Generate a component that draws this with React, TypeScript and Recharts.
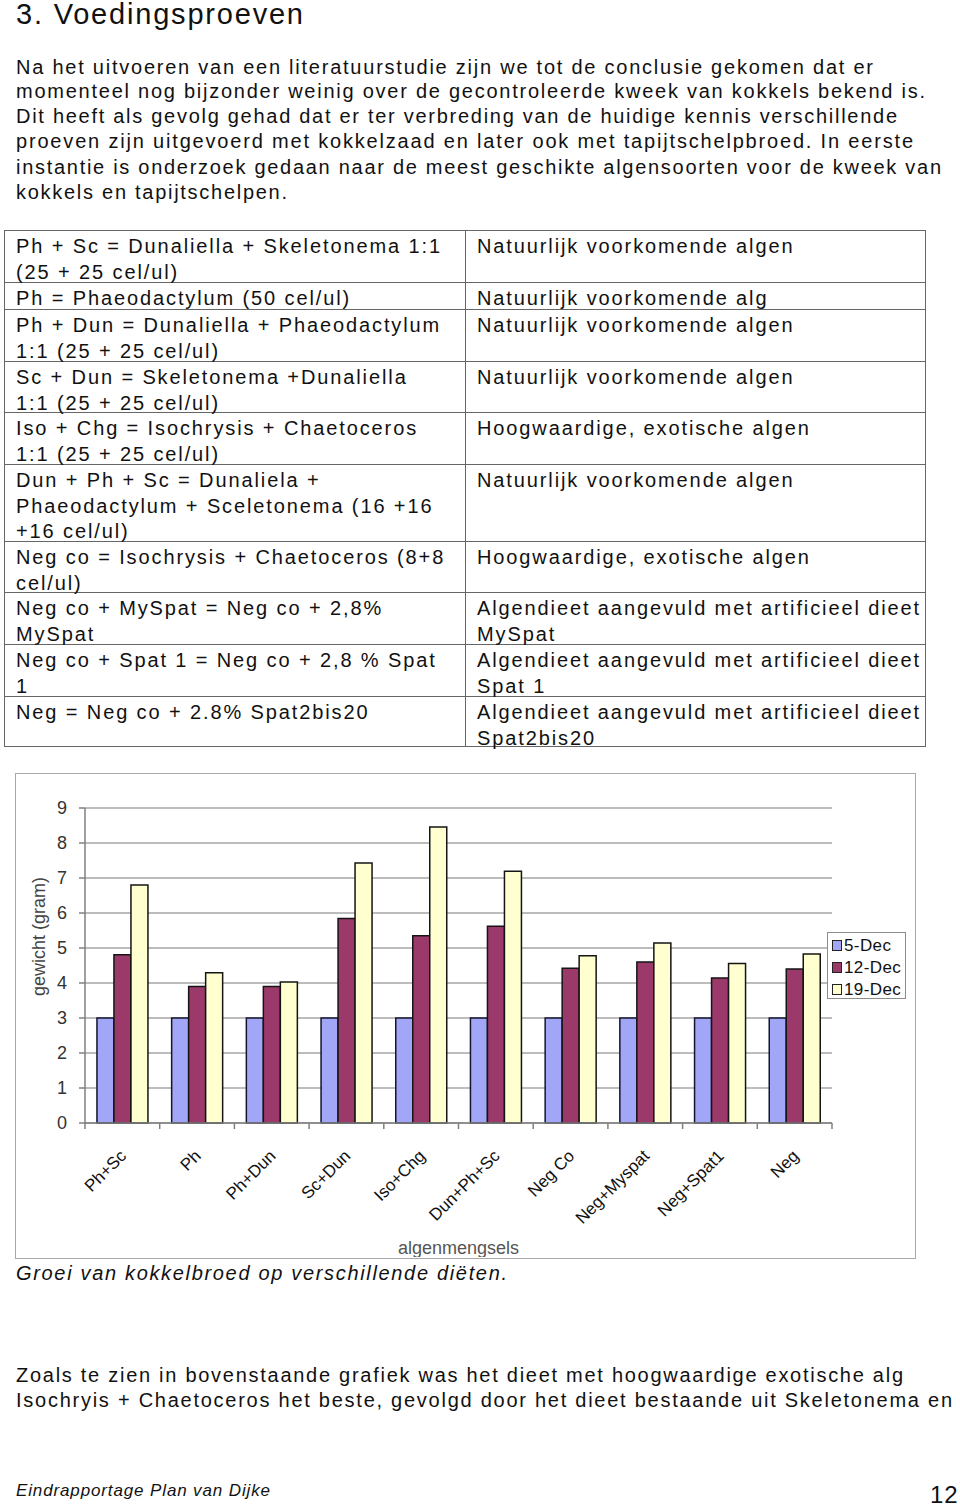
import React from "react"
import { BarChart, Bar, XAxis, YAxis, CartesianGrid, Legend } from "recharts"

// chart values
const categories = ["Ph+Sc", "Ph", "Ph+Dun", "Sc+Dun", "Iso+Chg", "Dun+Ph+Sc", "Neg Co", "Neg+Myspat", "Neg+Spat1", "Neg"]
const dec5 = [3, 3, 3, 3, 3, 3, 3, 3, 3, 3]
const dec12 = [4.81, 3.9, 3.9, 5.84, 5.35, 5.62, 4.42, 4.6, 4.14, 4.4]
const dec19 = [6.8, 4.29, 4.03, 7.43, 8.46, 7.19, 4.78, 5.14, 4.56, 4.83]
const seriesNames = ["5-Dec", "12-Dec", "19-Dec"]
const seriesColors = ["#a2a6f6", "#9b3a6a", "#ffffd0"]
const yTicks = [0, 1, 2, 3, 4, 5, 6, 7, 8, 9]

const data = categories.map((name, i) => ({ name, d5: dec5[i], d12: dec12[i], d19: dec19[i] }))

const FONT = '"Liberation Sans", Arial, Helvetica, sans-serif'

let ctx: CanvasRenderingContext2D | null = null
function fitSpacing(text: string, font: string, width: number) {
  if (!ctx) ctx = document.createElement("canvas").getContext("2d")
  if (!ctx) return 0
  ctx.font = font
  const w = ctx.measureText(text).width
  return (width - w) / Math.max(1, text.length - 1)
}

function fontOf(size: number, italic?: boolean) {
  return `${italic ? "italic " : ""}${size}px "Liberation Sans"`
}

function TextLine(props: { text: string; x: number; cy: number; size: number; right?: number; ls?: number; italic?: boolean; lh?: number }) {
  const { text, x, cy, size, right, italic } = props
  const ls = props.ls ?? (right ? fitSpacing(text, fontOf(size, italic), right - x) : 0)
  const lh = props.lh ?? Math.round(size * 1.2)
  return (
    <div
      style={{
        position: "absolute",
        left: x,
        top: cy - lh / 2,
        fontSize: size,
        lineHeight: `${lh}px`,
        letterSpacing: ls,
        fontStyle: italic ? "italic" : "normal",
        whiteSpace: "pre",
      }}
    >
      {text}
    </div>
  )
}

// intro text
const introLines = [
  "Na het uitvoeren van een literatuurstudie zijn we tot de conclusie gekomen dat er",
  "momenteel nog bijzonder weinig over de gecontroleerde kweek van kokkels bekend is.",
  "Dit heeft als gevolg gehad dat er ter verbreding van de huidige kennis verschillende",
  "proeven zijn uitgevoerd met kokkelzaad en later ook met tapijtschelpbroed. In eerste",
  "instantie is onderzoek gedaan naar de meest geschikte algensoorten voor de kweek van",
  "kokkels en tapijtschelpen.",
]
const introRight = [873, 925, 897, 913, 941, 287]
const introY = [67, 91, 116, 141, 167, 192]

// table of diets
const tableLeft = [
  ["Ph + Sc = Dunaliella + Skeletonema 1:1", "(25 + 25 cel/ul)"],
  ["Ph = Phaeodactylum (50 cel/ul)"],
  ["Ph + Dun = Dunaliella + Phaeodactylum", "1:1 (25 + 25 cel/ul)"],
  ["Sc + Dun = Skeletonema +Dunaliella", "1:1 (25 + 25 cel/ul)"],
  ["Iso + Chg = Isochrysis + Chaetoceros", "1:1 (25 + 25 cel/ul)"],
  ["Dun + Ph + Sc = Dunaliela +", "Phaeodactylum + Sceletonema (16 +16", "+16 cel/ul)"],
  ["Neg co = Isochrysis + Chaetoceros (8+8", "cel/ul)"],
  ["Neg co + MySpat = Neg co + 2,8%", "MySpat"],
  ["Neg co + Spat 1 = Neg co + 2,8 % Spat", "1"],
  ["Neg = Neg co + 2.8% Spat2bis20"],
]
const tableRight = [
  ["Natuurlijk voorkomende algen"],
  ["Natuurlijk voorkomende alg"],
  ["Natuurlijk voorkomende algen"],
  ["Natuurlijk voorkomende algen"],
  ["Hoogwaardige, exotische algen"],
  ["Natuurlijk voorkomende algen"],
  ["Hoogwaardige, exotische algen"],
  ["Algendieet aangevuld met artificieel dieet", "MySpat"],
  ["Algendieet aangevuld met artificieel dieet", "Spat 1"],
  ["Algendieet aangevuld met artificieel dieet", "Spat2bis20"],
]
const rowEdges = [230, 282, 309, 361, 412, 464, 541, 592, 644, 696, 747]

function CatTick(props: any) {
  const { x, y, payload, index, visibleTicksCount } = props
  const half = typeof payload?.offset === "number" ? payload.offset : 0
  const last = index === (visibleTicksCount ?? categories.length) - 1
  return (
    <g>
      {half > 0 && <line x1={x - half} x2={x - half} y1={y} y2={y + 6} stroke="#808080" strokeWidth={1.5} />}
      {half > 0 && last && <line x1={x + half} x2={x + half} y1={y} y2={y + 6} stroke="#808080" strokeWidth={1.5} />}
      <text
        transform={`translate(${x + 5},${y + 34}) rotate(-45)`}
        textAnchor="end"
        fontSize={17}
        fontFamily={FONT}
        fill="#111"
      >
        {payload.value}
      </text>
    </g>
  )
}

function LegendBox(props: any) {
  const items = [...(props.payload || [])].sort(
    (a: any, b: any) => seriesNames.indexOf(a.value) - seriesNames.indexOf(b.value)
  )
  return (
    <div
      style={{
        border: "1px solid #8c8c8c",
        background: "#fff",
        width: 79,
        height: 67,
        boxSizing: "border-box",
        padding: "2px 0 0 4px",
        fontFamily: FONT,
        fontSize: 17,
        letterSpacing: 0.4,
        color: "#111",
      }}
    >
      {items.map((it: any) => (
        <div key={it.value} style={{ display: "flex", alignItems: "center", height: 21, marginBottom: 1 }}>
          <span
            style={{
              display: "inline-block",
              width: 8,
              height: 9,
              background: it.color,
              border: "1px solid #222",
              marginRight: 2,
            }}
          />
          {it.value}
        </div>
      ))}
    </div>
  )
}

function GrowthChart() {
  return (
    <BarChart
      width={898}
      height={483}
      data={data}
      margin={{ top: 34, right: 82, bottom: 0, left: 0 }}
      barCategoryGap="16%"
      barGap={0}
    >
      <CartesianGrid vertical={false} stroke="#7a7a7a" strokeWidth={1.2} />
      <XAxis
        dataKey="name"
        height={134}
        interval={0}
        tickLine={false}
        tickSize={0}
        tickMargin={0}
        axisLine={{ stroke: "#808080", strokeWidth: 1.5 }}
        tick={<CatTick />}
        label={{
          content: (p: any) => {
            const vb = p.viewBox || {}
            return (
              <text x={vb.x + vb.width / 2} y={vb.y + 125} textAnchor="middle" dominantBaseline="central" fontSize={18} fontFamily={FONT} fill="#555">
                algenmengsels
              </text>
            )
          },
        }}
      />
      <YAxis
        width={69}
        domain={[0, 9]}
        ticks={yTicks}
        interval={0}
        tickSize={6}
        tickMargin={12}
        axisLine={{ stroke: "#808080", strokeWidth: 1.5 }}
        tickLine={{ stroke: "#808080", strokeWidth: 1.5 }}
        tick={{ fill: "#333", fontSize: 18, fontFamily: FONT }}
        label={{
          content: (p: any) => {
            const vb = p.viewBox || {}
            return (
              <text
                transform={`translate(${vb.x + 23},${vb.y + vb.height / 2 - 29}) rotate(-90)`}
                textAnchor="middle"
                dominantBaseline="central"
                fontSize={18}
                fontFamily={FONT}
                fill="#444"
              >
                gewicht (gram)
              </text>
            )
          },
        }}
      />
      <Legend
        layout="vertical"
        align="center"
        verticalAlign="middle"
        content={<LegendBox />}
        wrapperStyle={{ left: 811, top: 158, width: 79, height: 67 }}
      />
      <Bar dataKey="d5" name={seriesNames[0]} fill={seriesColors[0]} stroke="#15152e" strokeWidth={1.5} isAnimationActive={false} />
      <Bar dataKey="d12" name={seriesNames[1]} fill={seriesColors[1]} stroke="#151515" strokeWidth={1.5} isAnimationActive={false} />
      <Bar dataKey="d19" name={seriesNames[2]} fill={seriesColors[2]} stroke="#151515" strokeWidth={1.5} isAnimationActive={false} />
    </BarChart>
  )
}

export default function App() {
  const tableSize = 20
  const tableLs = fitSpacing(tableLeft[0][0], fontOf(tableSize), 424)

  return (
    <div
      style={{
        position: "absolute",
        left: 0,
        top: 0,
        width: 960,
        height: 1508,
        overflow: "hidden",
        background: "#fff",
        color: "#111",
        fontFamily: FONT,
      }}
    >
      <TextLine text="3. Voedingsproeven" x={16} cy={14} size={29} right={303} lh={28} />

      {introLines.map((t, i) => (
        <TextLine key={i} text={t} x={16} cy={introY[i]} size={20} right={introRight[i]} />
      ))}

      {/* table */}
      <div
        style={{
          position: "absolute",
          left: 4,
          top: rowEdges[0],
          width: 922,
          height: rowEdges[rowEdges.length - 1] - rowEdges[0],
          border: "1.5px solid #666",
          boxSizing: "border-box",
        }}
      />
      <div
        style={{
          position: "absolute",
          left: 465,
          top: rowEdges[0],
          width: 0,
          height: rowEdges[rowEdges.length - 1] - rowEdges[0],
          borderLeft: "1.5px solid #666",
        }}
      />
      {rowEdges.slice(1, -1).map((y) => (
        <div key={y} style={{ position: "absolute", left: 4, top: y, width: 922, height: 0, borderTop: "1.5px solid #666" }} />
      ))}
      {tableLeft.map((lines, r) =>
        lines.map((t, j) => (
          <TextLine key={`l${r}-${j}`} text={t} x={16} cy={rowEdges[r] + 16 + j * 25.6} size={tableSize} ls={tableLs} />
        ))
      )}
      {tableRight.map((lines, r) =>
        lines.map((t, j) => (
          <TextLine key={`r${r}-${j}`} text={t} x={477} cy={rowEdges[r] + 16 + j * 25.6} size={tableSize} ls={tableLs} />
        ))
      )}

      {/* chart */}
      <div
        style={{
          position: "absolute",
          left: 15,
          top: 773,
          width: 901,
          height: 486,
          border: "1px solid #a8a8a8",
          boxSizing: "border-box",
          background: "#fff",
        }}
      >
        <div style={{ position: "absolute", left: 0, top: 0 }}>
          <GrowthChart />
        </div>
      </div>

      <TextLine text="Groei van kokkelbroed op verschillende diëten." x={16} cy={1273} size={20} right={507} italic />

      <TextLine text="Zoals te zien in bovenstaande grafiek was het dieet met hoogwaardige exotische alg" x={16} cy={1375} size={20} right={903} />
      <TextLine text="Isochryis + Chaetoceros het beste, gevolgd door het dieet bestaande uit Skeletonema en" x={16} cy={1400} size={20} right={952} />

      <TextLine text="Eindrapportage Plan van Dijke" x={16} cy={1491} size={17} right={270} italic />
      <TextLine text="12" x={930} cy={1494} size={24} ls={1} />
    </div>
  )
}
